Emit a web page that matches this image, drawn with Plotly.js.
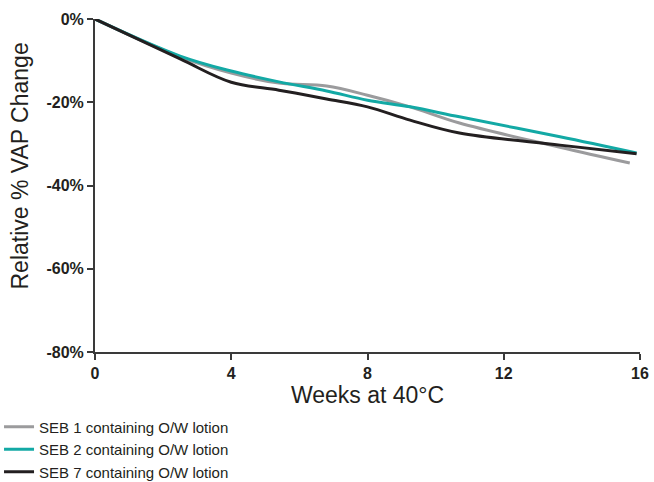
<!DOCTYPE html>
<html>
<head>
<meta charset="utf-8">
<script src="https://cdn.plot.ly/plotly-3.0.1.min.js"></script>
<style>html,body{margin:0;padding:0;background:#fff;}#chart{width:654px;height:482px;}</style>
</head>
<body>
<div id="chart"></div>
<script>
const seriesNames = ["SEB 1 containing O/W lotion", "SEB 2 containing O/W lotion", "SEB 7 containing O/W lotion"];
const weeks1 = [0, 2.5, 4, 5.4, 6.8, 8, 9.25, 10.7, 13.65, 15.7];
const seb1 = [0, -9.1, -13.0, -15.4, -16.1, -18.3, -21.1, -25.0, -30.8, -34.6];
const weeks2 = [0, 2.5, 4, 5.4, 6.8, 8, 9.25, 10.7, 13.65, 15.9];
const seb2 = [0, -8.9, -12.5, -15.1, -17.3, -19.5, -21.1, -23.5, -28.3, -32.2];
const weeks7 = [0, 2.5, 4, 5.4, 6.8, 8, 9.25, 10.7, 13.65, 15.9];
const seb7 = [0, -9.6, -15.2, -17.1, -19.2, -21.1, -24.3, -27.4, -30.3, -32.4];
const xTicks = [0, 4, 8, 12, 16];
const yTicks = [0, -20, -40, -60, -80];
const yTickText = ["0%", "-20%", "-40%", "-60%", "-80%"];
const xTitle = "Weeks at 40°C";
const yTitle = "Relative % VAP Change";
const colors = ["#9b9b9d", "#13a9a5", "#231f20"];

const xs = [weeks1, weeks2, weeks7];
const ys = [seb1, seb2, seb7];
const traces = ys.map((y, i) => ({
  x: xs[i], y: y, type: "scatter", mode: "lines", name: seriesNames[i],
  line: {color: colors[i], width: 3, shape: "spline", smoothing: 1.0}
}));

const tickFont = {family: "Liberation Sans Narrow, Arial Narrow, Liberation Sans, sans-serif", size: 16, color: "#231f20", weight: "bold"};
const titleFont = {family: "Liberation Sans, Arial, sans-serif", size: 23, color: "#231f20"};
const layout = {
  width: 654, height: 482,
  margin: {l: 95, r: 14, t: 19, b: 130, autoexpand: false},
  paper_bgcolor: "#fff", plot_bgcolor: "#fff",
  showlegend: true,
  legend: {x: -0.1761, xanchor: "left", y: -0.176, yanchor: "top", orientation: "v",
    font: {family: "Liberation Sans Narrow, Arial Narrow, Liberation Sans, sans-serif", size: 15, color: "#231f20"},
    bgcolor: "rgba(0,0,0,0)", borderwidth: 0, tracegroupgap: 0, itemwidth: 30},
  xaxis: {range: [0, 16], tickvals: xTicks, ticktext: xTicks.map(String), showgrid: false, zeroline: false, automargin: false,
    showline: true, linecolor: "#3a3a3a", linewidth: 2, ticks: "outside", ticklen: 6, tickwidth: 2, tickcolor: "#3a3a3a",
    tickfont: tickFont,
    title: {text: xTitle, font: titleFont, standoff: 5}},
  yaxis: {range: [-80, 0], tickvals: yTicks, ticktext: yTickText, showgrid: false, zeroline: false, automargin: false,
    showline: true, linecolor: "#3a3a3a", linewidth: 2, ticks: "outside", ticklen: 6, tickwidth: 2, tickcolor: "#3a3a3a",
    tickfont: tickFont},
  annotations: [{text: yTitle, textangle: -90, xref: "paper", yref: "paper", x: -0.1376, y: 0.5571,
    xanchor: "center", yanchor: "middle", showarrow: false, font: titleFont}]
};
Plotly.newPlot("chart", traces, layout, {staticPlot: true, displayModeBar: false});
</script>
</body>
</html>
